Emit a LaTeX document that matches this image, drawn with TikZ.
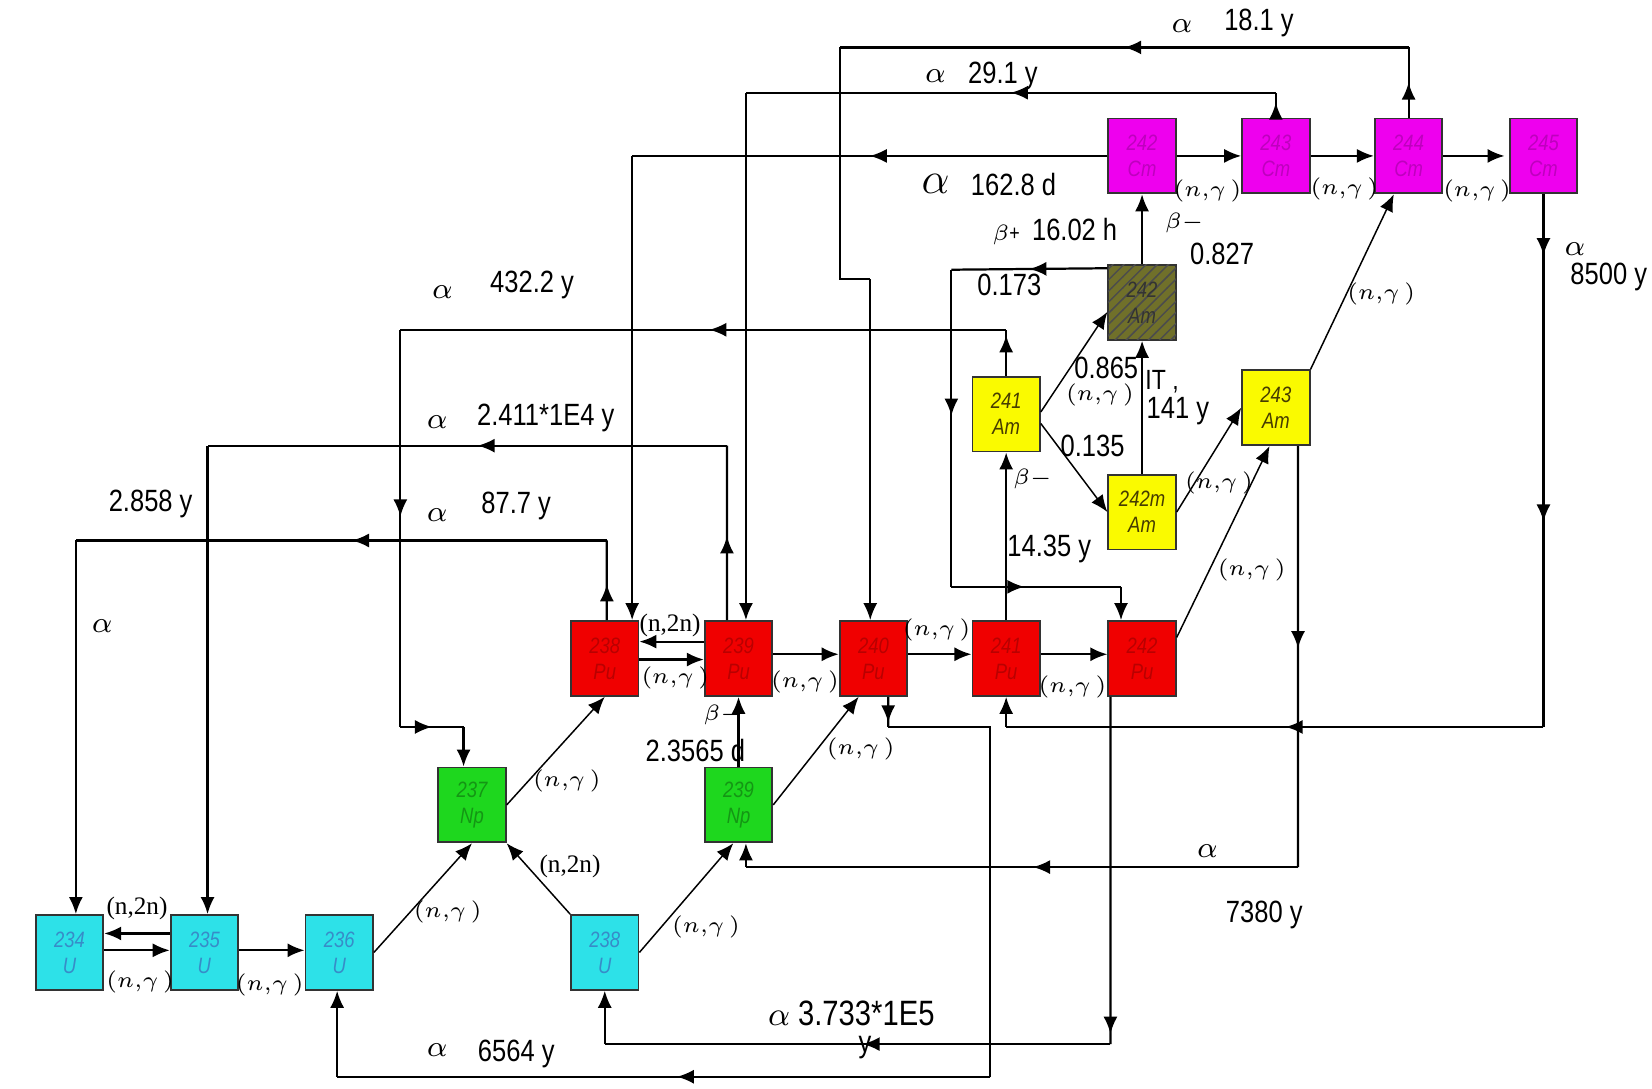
\documentclass[tikz,border=0pt]{standalone}
\usepackage[no-math]{fontspec}
\setmainfont{Liberation Sans}[FakeStretch=0.83]
\newfontfamily\tnr{Liberation Serif}
\usetikzlibrary{arrows.meta,decorations.markings,patterns}

\definecolor{ucyan}{RGB}{45,225,232}
\definecolor{utext}{RGB}{55,140,200}
\definecolor{npgreen}{RGB}{30,215,30}
\definecolor{nptext}{RGB}{20,150,20}
\definecolor{pured}{RGB}{240,0,0}
\definecolor{putext}{RGB}{185,0,0}
\definecolor{amyel}{RGB}{250,250,0}
\definecolor{amtext}{RGB}{70,60,0}
\definecolor{amolive}{RGB}{112,112,42}
\definecolor{cmmag}{RGB}{238,0,238}
\definecolor{cmtext}{RGB}{190,0,190}

\tikzset{
  nuc/.style={draw=black!80, line width=0.5pt, minimum width=0.64cm, minimum height=0.71cm,
    inner sep=0pt, align=center, font=\fontsize{6}{7}\selectfont\itshape},
  uran/.style={nuc, fill=ucyan, text=utext},
  nept/.style={nuc, fill=npgreen, text=nptext},
  plut/.style={nuc, fill=pured, text=putext},
  amer/.style={nuc, fill=amyel, text=amtext},
  amhat/.style={nuc, fill=amolive, text=black!80, postaction={pattern=north east lines, pattern color=black!70}},
  curi/.style={nuc, fill=cmmag, text=cmtext},
  arrowat/.style={postaction={decorate}, decoration={markings, mark=at position #1 with {\arrow{>}}}},
  arrowat/.default=0.5,
  diag/.style={->, line width=0.4pt},
  lab/.style={inner sep=0pt, font=\fontsize{8.3}{9}\selectfont},
  ng/.style={inner sep=0pt, font=\fontsize{5.8}{6}\selectfont},
  nn/.style={inner sep=0pt, font=\fontsize{6.8}{7}\tnr},
}
\newcommand{\ngam}{$(n{,}\gamma\,)$}

\begin{document}
\begin{tikzpicture}[x=0.01cm, y=-0.01cm, line width=0.6pt, >={Latex[length=4.6pt,width=3.8pt]}]
  \fill[white] (0,0) rectangle (1568,1033);
  \useasboundingbox (0,0) rectangle (1568,1033);

  % nuclides
  \node[uran] (U234) at (66,904) {234\\U};
  \node[uran] (U235) at (194,904) {235\\U};
  \node[uran] (U236) at (322,904) {236\\U};
  \node[uran] (U238) at (574,904) {238\\U};
  \node[nept] (Np237) at (448,764) {237\\Np};
  \node[nept] (Np239) at (701,764) {239\\Np};
  \node[plut] (Pu238) at (574,625) {238\\Pu};
  \node[plut] (Pu239) at (701,625) {239\\Pu};
  \node[plut] (Pu240) at (829,625) {240\\Pu};
  \node[plut] (Pu241) at (955,625) {241\\Pu};
  \node[plut] (Pu242) at (1084,625) {242\\Pu};
  \node[amer] (Am241) at (955,393) {241\\Am};
  \node[amhat] (Am242) at (1084,287) {242\\Am};
  \node[amer] (Am242m) at (1084,486) {242\textit{m}\\Am};
  \node[amer] (Am243) at (1211,387) {243\\Am};
  \node[curi] (Cm242) at (1084,148) {242\\Cm};
  \node[curi] (Cm243) at (1211,148) {243\\Cm};
  \node[curi] (Cm244) at (1337,148) {244\\Cm};
  \node[curi] (Cm245) at (1465,148) {245\\Cm};

  % captures and short links
  \draw[->] ([yshift=1.8mm]U235.west) -- ([yshift=1.8mm]U234.east);
  \draw[->] ([yshift=0.2mm]U234.east) -- ([yshift=0.2mm]U235.west);
  \draw[->] ([yshift=0.2mm]U235.east) -- ([yshift=0.2mm]U236.west);
  \draw[diag] (U236.east) -- (Np237.south);
  \draw[diag] (U238.north west) -- (Np237.south east);
  \draw[diag] (Np237.east) -- (Pu238.south);
  \draw[diag] (U238.east) -- ([xshift=-0.5mm]Np239.south);
  \draw[->] (Np239.north) -- (Pu239.south);
  \draw[diag] (Np239.east) -- ([xshift=-1.4mm]Pu240.south);
  \draw[->] ([yshift=1.6mm]Pu239.west) -- ([yshift=1.6mm]Pu238.east);
  \draw[->] ([yshift=-0.1mm]Pu238.east) -- ([yshift=-0.1mm]Pu239.west);
  \draw[->] ([yshift=0.4mm]Pu239.east) -- ([yshift=0.4mm]Pu240.west);
  \draw[->] ([yshift=0.4mm]Pu240.east) -- ([yshift=0.4mm]Pu241.west);
  \draw[->] ([yshift=0.4mm]Pu241.east) -- ([yshift=0.4mm]Pu242.west);
  \draw[->] (Pu241.north) -- (Am241.south);
  \draw[diag] ([yshift=2mm]Pu242.east) -- ([xshift=-0.6mm]Am243.south);
  \draw[diag] ([yshift=0.2mm]Am241.east) -- ([yshift=-0.9mm]Am242.west);
  \draw[diag] ([yshift=-0.9mm]Am241.east) -- (Am242m.west);
  \draw[->] (Am242m.north) -- (Am242.south);
  \draw[diag] (Am242m.east) -- (Am243.west);
  \draw[->] (Am242.north) -- (Cm242.south);
  \draw[diag] (Am243.north east) -- ([xshift=-1.4mm]Cm244.south);
  \draw[->] (Cm242.east) -- (Cm243.west);
  \draw[->] (Cm243.east) -- (Cm244.west);
  \draw[->] (Cm244.east) -- ([xshift=-0.4mm]Cm245.west);

  % alpha 18.1 y
  \coordinate (a1) at (1337,45);
  \coordinate (a2) at (797,45);
  \coordinate (a3) at (797,265);
  \coordinate (a4) at (826,265);
  \draw[arrowat] (Cm244.north) -- (a1);
  \draw[arrowat] (a1) -- (a2);
  \draw (a2) -- (a3) -- (a4);
  \draw[->] (a4) -- (a4 |- Pu240.north);

  % alpha 29.1 y
  \coordinate (b1) at (1211,88);
  \coordinate (b2) at (708,88);
  \draw[arrowat=0.6] (Cm243.north) -- (b1);
  \draw[arrowat] (b1) -- (b2);
  \draw[->] (b2) -- (b2 |- Pu239.north);

  % alpha 162.8 d
  \coordinate (c1) at (600,148);
  \draw[arrowat] (Cm242.west) -- (c1);
  \draw[->] (c1) -- (c1 |- Pu238.north);

  % 0.173 branch
  \coordinate (d0) at ([yshift=-0.4mm]Am242.north west);
  \coordinate (d1) at (903,256);
  \coordinate (d2) at (903,557);
  \coordinate (d3) at (1064,557);
  \draw[arrowat] (d0) -- (d1);
  \draw[arrowat=0.46] (d1) -- (d2);
  \draw[arrowat=0.43] (d2) -- (d3);
  \draw[->] (d3) -- (d3 |- Pu242.north);

  % alpha 432.2 y
  \coordinate (e1) at (955,313);
  \coordinate (e2) at (380,313);
  \coordinate (e3) at (380,690);
  \coordinate (e4) at (440,690);
  \draw[arrowat=0.88] (Am241.north) -- (e1);
  \draw[arrowat=0.49] (e1) -- (e2);
  \draw[arrowat=0.47] (e2) -- (e3);
  \draw[arrowat] (e3) -- (e4);
  \draw[->] (e4) -- (e4 |- Np237.north);

  % alpha 2.411*1E4 y
  \coordinate (f0) at ([xshift=-1.1mm]Pu239.north);
  \coordinate (f1) at (690,423);
  \coordinate (f2) at (197,423);
  \draw[arrowat=0.48] (f0) -- (f1);
  \draw[arrowat=0.48] (f1) -- (f2);
  \draw[->] (f2) -- (f2 |- U235.north);

  % alpha 87.7 y
  \coordinate (g0) at ([xshift=0.2mm]Pu238.north);
  \coordinate (g1) at (576,513);
  \coordinate (g2) at (72,513);
  \draw[arrowat=0.45] (g0) -- (g1);
  \draw[arrowat=0.48] (g1) -- (g2);
  \draw[->] (g2) -- (g2 |- U234.north);

  % alpha 8500 y
  \coordinate (h0) at (1465,300);
  \coordinate (h1) at (1465,690);
  \coordinate (h2) at (955,690);
  \draw[arrowat=0.5] (Cm245.south) -- (h0);
  \draw[arrowat=0.5] (h0) -- (h1);
  \draw[arrowat=0.48] (h1) -- (h2);
  \draw[->] (h2) -- (h2 |- Pu241.south);

  % alpha 7380 y
  \coordinate (i0) at ([xshift=2.1mm]Am243.south);
  \coordinate (i1) at (1232,823);
  \coordinate (i2) at (708,823);
  \draw[arrowat=0.48] (i0) -- (i1);
  \draw[arrowat=0.48] (i1) -- (i2);
  \draw[->] (i2) -- (i2 |- Np239.south);

  % alpha 6564 y
  \coordinate (j0) at ([xshift=1.4mm]Pu240.south);
  \coordinate (j1) at (843,690);
  \coordinate (j2) at (940,690);
  \coordinate (j3) at (940,1022);
  \coordinate (j4) at (320,1022);
  \draw[arrowat=0.85] (j0) -- (j1);
  \draw (j1) -- (j2) -- (j3);
  \draw[arrowat=0.48] (j3) -- (j4);
  \draw[->] (j4) -- (j4 |- U236.south);

  % alpha 3.733*1E5
  \coordinate (k0) at ([xshift=-3mm]Pu242.south);
  \coordinate (k1) at (1054,991);
  \coordinate (k2) at (574,991);
  \draw[arrowat=0.97] (k0) -- (k1);
  \draw[arrowat=0.49] (k1) -- (k2);
  \draw[->] (k2) -- (U238.south);

  % labels
  \node[lab] (al18) at (1122,25) {$\alpha$};
  \node[lab] (t18) at (1195,22) {18.1 y};
  \node[lab] (al29) at (888,72) {$\alpha$};
  \node[lab] (t29) at (952,72) {29.1 y};
  \node[lab, font=\fontsize{12}{12}\selectfont] (al162) at (888,175) {$\alpha$};
  \node[lab] (t162) at (962,175) {162.8 d};
  \node[ng] (ng1) at (1146,181) {\ngam};
  \node[ng] (ng2) at (1276,179) {\ngam};
  \node[ng] (ng3) at (1402,181) {\ngam};
  \node[ng] (bp) at (955,223) {$\beta$+};
  \node[lab] (t16) at (1020,218) {16.02 h};
  \node[ng] (bm1) at (1124,212) {$\beta-$};
  \node[lab] (b827) at (1160,241) {0.827};
  \node[lab] (b173) at (958,270) {0.173};
  \node[lab] (al432) at (420,277) {$\alpha$};
  \node[lab] (t432) at (505,270) {432.2 y};
  \node[lab] (al85) at (1495,236) {$\alpha$};
  \node[lab] (t85) at (1527,263) {8500 y};
  \node[ng] (ng4) at (1311,279) {\ngam};
  \node[lab] (b865) at (1050,349) {0.865};
  \node[ng] (ng5) at (1044,375) {\ngam};
  \node[lab, font=\fontsize{7.5}{8}\selectfont] (tIT) at (1103,362) {IT ,};
  \node[lab] (t141) at (1118,390) {141 y};
  \node[lab] (b135) at (1037,423) {0.135};
  \node[ng] (bm2) at (980,455) {$\beta-$};
  \node[ng] (ng6) at (1157,458) {\ngam};
  \node[lab] (al241) at (415,401) {$\alpha$};
  \node[lab] (t241) at (518,397) {2.411*1E4 y};
  \node[lab] (t2858) at (143,478) {2.858 y};
  \node[lab] (al877) at (415,489) {$\alpha$};
  \node[lab] (t877) at (490,480) {87.7 y};
  \node[lab] (t1435) at (996,521) {14.35 y};
  \node[ng] (ng7) at (1188,541) {\ngam};
  \node[lab] (alU) at (97,594) {$\alpha$};
  \node[nn] (nn1) at (636,594) {(n,2n)};
  \node[ng] (ng8) at (889,598) {\ngam};
  \node[ng] (ng9) at (641,643) {\ngam};
  \node[ng] (ng10) at (764,647) {\ngam};
  \node[ng] (ng11) at (1018,652) {\ngam};
  \node[ng] (bm3) at (686,679) {$\beta-$};
  \node[lab] (t2356) at (660,712) {2.3565 d};
  \node[ng] (ng12) at (817,711) {\ngam};
  \node[ng] (ng13) at (538,741) {\ngam};
  \node[lab] (al738) at (1146,808) {$\alpha$};
  \node[nn] (nn2) at (541,822) {(n,2n)};
  \node[nn] (nn3) at (130,862) {(n,2n)};
  \node[ng] (ng14) at (425,866) {\ngam};
  \node[lab] (t738) at (1200,868) {7380 y};
  \node[ng] (ng15) at (670,880) {\ngam};
  \node[ng] (ng16) at (133,932) {\ngam};
  \node[ng] (ng17) at (256,935) {\ngam};
  \node[lab, font=\fontsize{9.5}{10}\selectfont] (t3733) at (808,962) {$\alpha$ 3.733*1E5};
  \node[lab] (t3733y) at (821,994) {y};
  \node[lab] (al656) at (415,997) {$\alpha$};
  \node[lab] (t656) at (490,1000) {6564 y};
\end{tikzpicture}
\end{document}
